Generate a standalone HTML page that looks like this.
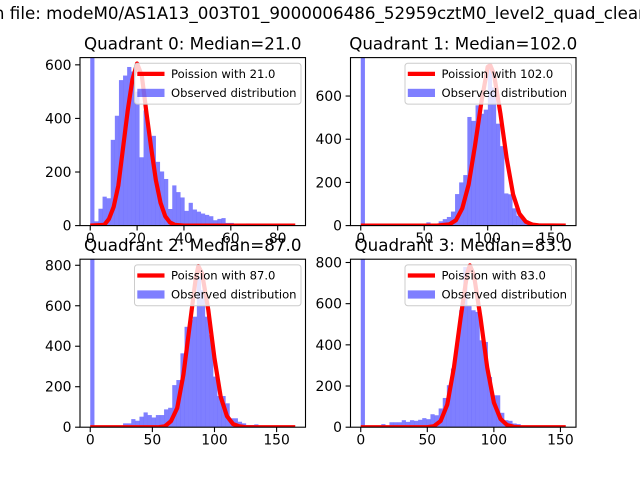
<!DOCTYPE html>
<html><head><meta charset="utf-8"><style>
html,body{margin:0;padding:0;background:#fff;overflow:hidden}
svg{display:block;font-family:"DejaVu Sans","Liberation Sans",sans-serif}
</style></head><body>
<svg id="fig" width="640" height="480" viewBox="0 0 640 480">
<rect width="640" height="480" fill="#fff"/>
<text x="-11" y="19" font-size="16.7" fill="#000">In file: modeM0/AS1A13_003T01_9000006486_52959cztM0_level2_quad_clean.evt</text>
</svg>
<script>
// ---- data ----
const titles = ["Quadrant 0: Median=21.0","Quadrant 1: Median=102.0","Quadrant 2: Median=87.0","Quadrant 3: Median=83.0"];
const legendLabels = ["Poission with 21.0","Poission with 102.0","Poission with 87.0","Poission with 83.0"];
const xMax = [87.5, 161.5, 165, 154];
const yMax = [627, 778, 830, 816];
const xTicks0 = [0,20,40,60,80];
const xTicks1 = [0,50,100,150];
const xTicks2 = [0,50,100,150];
const xTicks3 = [0,50,100,150];
const yTicks0 = [0,200,400,600];
const yTicks1 = [0,200,400,600];
const yTicks2 = [0,200,400,600,800];
const yTicks3 = [0,200,400,600,800];
const counts0 = [3000,16,63,108,102,320,410,543,560,592,575,500,255,430,330,335,238,202,174,62,150,125,105,55,85,60,52,45,40,35,20,25,28,10,10,5,5,4,8,3,2,0,0,0,0,0,0,0,0,0];
const counts1 = [3000,0,0,0,0,0,0,0,0,0,0,0,0,0,0,0,15,0,8,20,30,40,65,146,200,234,503,485,557,518,537,741,640,472,368,149,145,80,46,34,23,15,12,10,5,3,2,0,0,0];
const counts2 = [3000,0,0,0,0,0,0,0,19,19,40,32,52,73,60,48,60,60,88,96,208,233,365,496,529,546,743,677,546,455,250,154,154,118,44,44,27,19,11,11,14,3,3,0,0,0,0,0,0,0];
const counts3 = [3000,0,0,0,0,15,0,24,24,24,34,26,34,31,36,44,39,63,58,91,142,204,285,406,568,778,592,568,560,422,414,244,155,155,70,34,31,18,15,3,3,0,0,0,0,0,0,0,0,0];
const poisX0 = [0,6,8,10,12,14,16,18,20,22,24,26,28,30,32,34,36,40,87.5];
const poisY0 = [0,3,25,70,150,290,430,545,605,560,420,290,170,85,35,12,3,0,0];
const poisX1 = [0,60,70,75,80,85,90,95,100,102,105,110,115,120,125,130,135,140,161.5];
const poisY1 = [0,0,6,25,80,190,370,570,735,743,700,520,310,145,55,18,5,1,0];
const poisX2 = [0,55,60,65,70,75,80,85,87,90,95,100,105,110,115,120,125,165];
const poisY2 = [0,0,4,30,95,260,500,740,796,760,580,340,150,55,15,4,0,0];
const poisX3 = [0,50,55,60,65,70,75,80,82,85,90,95,100,105,110,115,120,154];
const poisY3 = [0,0,5,30,110,290,530,750,786,740,530,290,120,40,10,2,0,0];

const panels = [
 {counts:counts0,px:poisX0,py:poisY0,xt:xTicks0,yt:yTicks0,L:80,T:57.6},
 {counts:counts1,px:poisX1,py:poisY1,xt:xTicks1,yt:yTicks1,L:350.5,T:57.6},
 {counts:counts2,px:poisX2,py:poisY2,xt:xTicks2,yt:yTicks2,L:80,T:259.2},
 {counts:counts3,px:poisX3,py:poisY3,xt:xTicks3,yt:yTicks3,L:350.5,T:259.2}
];
const W = 225.5, H = 168;
const NS = "http://www.w3.org/2000/svg";
const fig = document.getElementById('fig');
function mk(tag, attrs, parent){
  const e = document.createElementNS(NS, tag);
  for (const k in attrs) e.setAttribute(k, attrs[k]);
  (parent||fig).appendChild(e);
  return e;
}
const defs = mk('defs',{});
panels.forEach((p, i) => {
  const xmx = xMax[i], margin = 0.05*xmx;
  const x0 = -margin, x1 = xmx + margin;
  const sx = v => p.L + (v - x0)/(x1 - x0)*W;
  const sy = v => p.T + H - v/yMax[i]*H;
  const g = mk('g',{});
  
  
  const cp = mk('clipPath',{id:'clip'+i}, defs);
  mk('rect',{x:p.L,y:p.T,width:W,height:H}, cp);
  // bars
  const bars = mk('g',{'clip-path':'url(#clip'+i+')'}, g);
  const n = p.counts.length, bw = xmx/n;
  p.counts.forEach((c, k) => {
    if (c <= 0) return;
    const r = mk('rect',{x:sx(k*bw), y:sy(c), width:sx((k+1)*bw)-sx(k*bw)+0.1, height:sy(0)-sy(c), fill:'#0000ff','fill-opacity':0.5}, bars);
    
    
  });
  // poisson line
  const pts = p.px.map((x, k) => sx(x).toFixed(2) + ',' + sy(p.py[k]).toFixed(2)).join(' ');
  const line = mk('polyline',{points:pts, fill:'none', stroke:'#ff0000','stroke-width':4.2,'stroke-linejoin':'round','clip-path':'url(#clip'+i+')'}, g);
  
  
  // frame
  const fr = mk('rect',{x:p.L,y:p.T,width:W,height:H,fill:'none',stroke:'#000','stroke-width':1.1}, g);
  
  
  // x ticks
  p.xt.forEach(t => {
    const x = sx(t);
    mk('line',{x1:x,x2:x,y1:p.T+H,y2:p.T+H+4.9,stroke:'#000','stroke-width':1.1}, g);
    const tl = mk('text',{x:x,y:p.T+H+17.5,'font-size':13.9,'text-anchor':'middle'}, g);
    tl.textContent = t;
    
    
  });
  // y ticks
  p.yt.forEach(t => {
    const y = sy(t);
    mk('line',{x1:p.L-4.9,x2:p.L,y1:y,y2:y,stroke:'#000','stroke-width':1.1}, g);
    const tl = mk('text',{x:p.L-8.5,y:y+5,'font-size':13.9,'text-anchor':'end'}, g);
    tl.textContent = t;
    
    
  });
  // title
  const tt = mk('text',{x:p.L+W/2,y:p.T-8,'font-size':16.7,'text-anchor':'middle'}, g);
  tt.textContent = titles[i];
  
  
  // legend
  const lx = p.L + W - 4.5 - 166.5, ly = p.T + 5.7;
  const lg = mk('g',{}, g);
  
  
  mk('rect',{x:lx,y:ly,width:166.5,height:40.8,rx:2.8,fill:'#fff','fill-opacity':0.8,stroke:'#cccccc','stroke-width':1}, lg);
  mk('line',{x1:lx+2.8,x2:lx+30,y1:ly+10.6,y2:ly+10.6,stroke:'#ff0000','stroke-width':4.2}, lg);
  mk('rect',{x:lx+2.8,y:ly+25.5,width:27.2,height:8.2,fill:'#0000ff','fill-opacity':0.5}, lg);
  const t1 = mk('text',{x:lx+36.5,y:ly+14.6,'font-size':11.6}, lg);
  t1.textContent = legendLabels[i];
  
  
  const t2 = mk('text',{x:lx+36.5,y:ly+33.5,'font-size':11.6}, lg);
  t2.textContent = 'Observed distribution';
  
  
});
</script>
</body></html>
